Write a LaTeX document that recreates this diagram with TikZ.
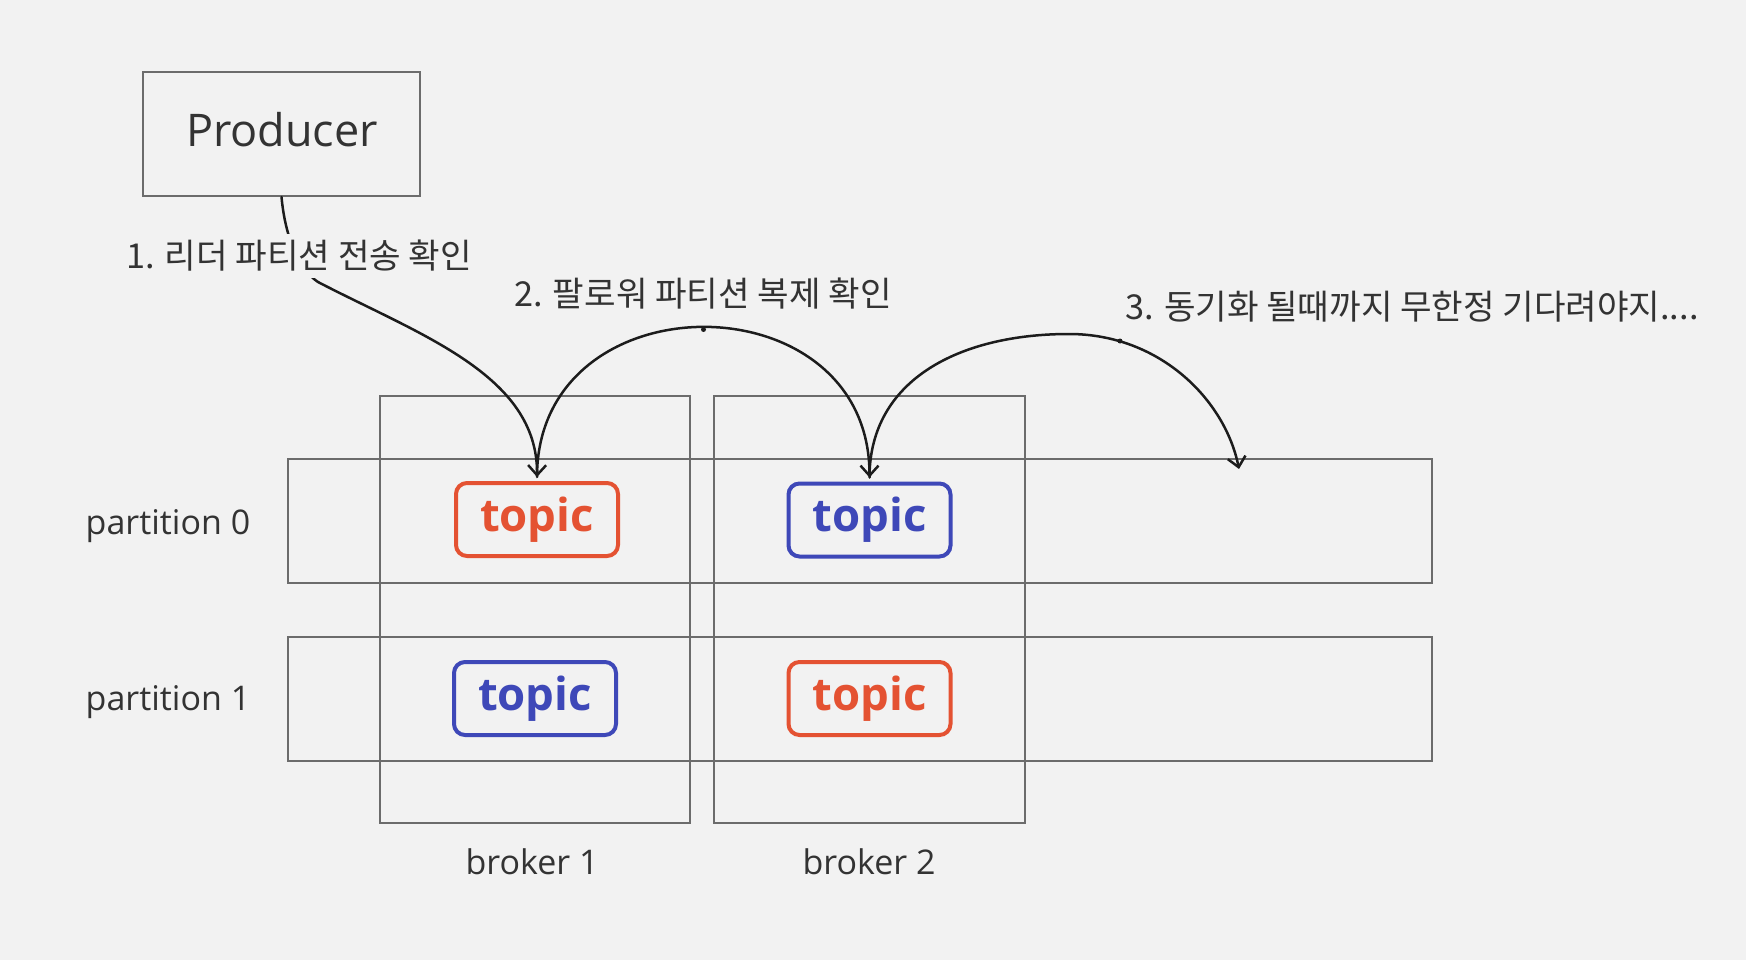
\documentclass[tikz,border=0pt]{standalone}
\usepackage{fontspec}
\setmainfont{Open Sans}
\newfontfamily\krfont{Noto Sans CJK KR}
\usetikzlibrary{arrows.meta}
\definecolor{bgc}{RGB}{242,242,242}
\definecolor{boxc}{RGB}{108,108,108}
\definecolor{txtc}{RGB}{51,51,51}
\definecolor{redc}{RGB}{228,82,50}
\definecolor{bluec}{RGB}{62,72,184}
\definecolor{arrc}{RGB}{28,28,28}
\tikzset{
  framebox/.style={draw=boxc, line width=2pt, inner sep=0pt},
  topicbox/.style={rounded corners=11pt, line width=4pt, minimum width=162pt, minimum height=73pt, inner sep=0pt, fill=bgc, font=\fontsize{45.5}{50}\selectfont\bfseries},
  redtopic/.style={topicbox, draw=redc, text=redc},
  bluetopic/.style={topicbox, draw=bluec, text=bluec},
  lbl/.style={text=txtc, font=\fontsize{34}{38}\selectfont, inner sep=0pt},
  krlbl/.style={text=txtc, font=\krfont\fontsize{34.3}{38}\selectfont, inner xsep=4pt, inner ysep=6pt},
  flow/.style={draw=arrc, line width=2.5pt, line cap=round, -{Straight Barb[length=10pt,width=18pt,line width=2.5pt]}},
}
\begin{document}
\begin{tikzpicture}[x=1pt,y=-1pt]
\useasboundingbox[fill=bgc] (0,0) rectangle (1746,960);

% producer
\node[framebox, minimum width=277pt, minimum height=124pt] (prod) at (281.5,134) {};
\node[lbl, font=\fontsize{45}{50}\selectfont, anchor=base] (prodtxt) at (282,146.7) {Producer};

% partitions (rows)
\node[framebox, minimum width=1144.6pt, minimum height=124.3pt] (p0) at (860,520.9) {};
\node[framebox, minimum width=1144.6pt, minimum height=124pt] (p1) at (860,698.7) {};
% brokers (columns)
\node[framebox, minimum width=310pt, minimum height=427pt] (b1) at (535,609.5) {};
\node[framebox, minimum width=311pt, minimum height=427pt] (b2) at (869.5,609.5) {};

% labels
\node[lbl, anchor=base] (p0lbl) at (168,534) {partition 0};
\node[lbl, anchor=base] (p1lbl) at (168,710) {partition 1};
\node[lbl, anchor=base] (b1lbl) at (532,874) {broker 1};
\node[lbl, anchor=base] (b2lbl) at (869,874) {broker 2};

% topics
\node[redtopic] (t00) at (537,519.5) {topic};
\node[bluetopic] (t01) at (869.5,520) {topic};
\node[bluetopic] (t10) at (535,698.5) {topic};
\node[redtopic] (t11) at (869.5,698.5) {topic};

% connectors
\coordinate (s00) at ([yshift=4pt]t00.north);
\coordinate (s01) at ([yshift=4pt]t01.north);
\coordinate (e3) at (1239,469);

\draw[flow] (prod.south) .. controls +(4,43) and (300,270) .. (318,282)
  .. controls (420,335) and (538,375) .. (s00);
\draw[flow] (s00) .. controls +(0,-200) and +(0,-200) .. (s01);
\draw[flow] (s01) .. controls +(0,-98) and (960,334) .. (1069,334)
  .. controls (1160,334) and (1225,400) .. (e3);
\fill[arrc] (703.5,329.5) circle (2.5pt);
\fill[arrc] (1120,341) circle (2.5pt);

% step labels
\node[krlbl, fill=bgc, anchor=base west] (l1) at (122,269) {1. 리더 파티션 전송 확인};
\node[krlbl, anchor=base west] (l2) at (510,306) {2. 팔로워 파티션 복제 확인};
\node[krlbl, anchor=base west] (l3) at (1121,319) {3. 동기화 될때까지 무한정 기다려야지....};
\end{tikzpicture}
\end{document}
